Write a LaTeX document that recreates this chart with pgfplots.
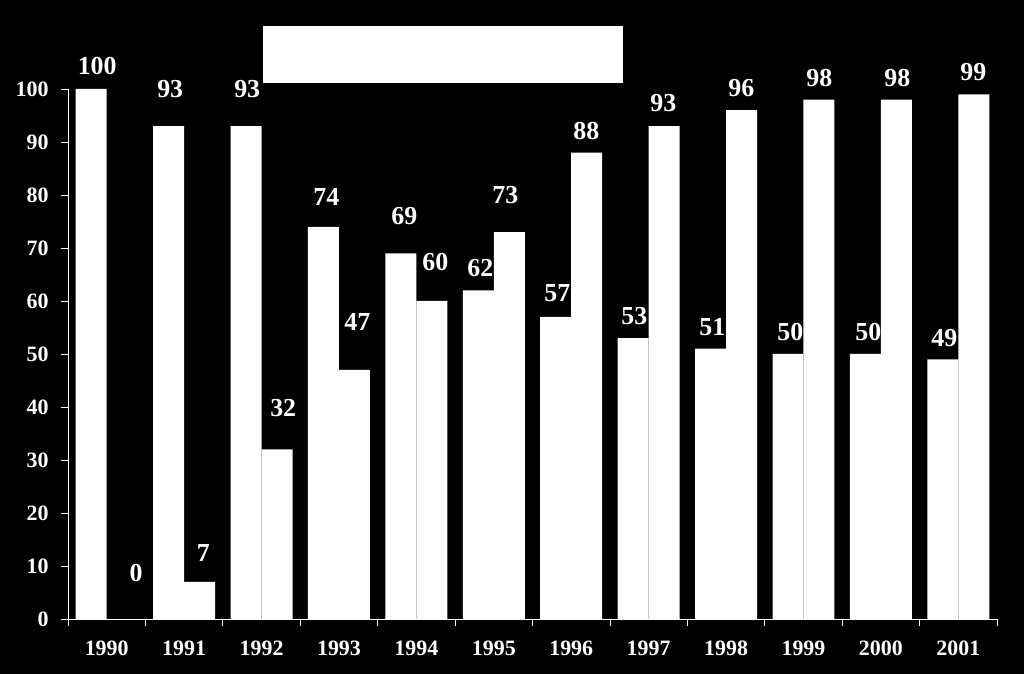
\documentclass[border=0pt]{standalone}
\usepackage{fontspec}
\setmainfont{Liberation Serif}
\usepackage{pgfplots}
\usepackage{pgfplotstable}
\pgfplotsset{compat=1.18}

\pgfplotstableread{
x v xo yo
0 100 -9.5 23
1 93 -13.9 37
2 93 -14.3 37
3 74 -12.7 30
4 69 -12.1 37
5 62 -13.5 22
6 57 -13.9 24
7 53 -14.3 22
8 51 -13.7 22
9 50 -13.1 22
10 50 -12.5 22
11 49 -13.9 21
}\seriesA

\pgfplotstableread{
x v xo yo
0 0 29.5 46
1 7 19.1 29
2 32 21.7 41
3 47 18.3 48
4 60 18.9 39
5 73 11.5 37
6 88 15.1 22
7 93 14.7 23
8 96 15.3 22
9 98 15.9 22
10 98 16.5 22
11 99 15.1 22
}\seriesB

\begin{document}
\begin{tikzpicture}
\fill[black] (0,0) rectangle (1024bp,674bp);
\useasboundingbox (0,0) rectangle (1024bp,674bp);
\begin{axis}[
  at={(68bp,55bp)}, anchor=south west,
  scale only axis, width=929bp, height=530bp,
  xmin=-0.5, xmax=11.5, ymin=0, ymax=100,
  axis x line*=bottom, axis y line*=left,
  axis line style={white, line width=0.8pt},
  tick style={white, line width=0.8pt},
  tick align=outside, major tick length=7bp,
  xtick={-0.5,0.5,...,11.5},
  x tick label as interval,
  xticklabels={1990,1991,1992,1993,1994,1995,1996,1997,1998,1999,2000,2001},
  ytick={0,10,...,100},
  /pgf/number format/assume math mode=true,
  ticklabel style={text=white, font=\fontsize{22}{26}\selectfont\bfseries},
  xticklabel style={yshift=-11bp},
  yticklabel style={xshift=-9bp},
]
\addplot[ybar, bar width=0.4, bar shift=-0.2, fill=white, draw=none,
  visualization depends on={\thisrow{xo}\as\xo},
  visualization depends on={\thisrow{yo}\as\yo},
  nodes near coords,
  every node near coord/.append style={anchor=center, xshift=\xo bp, yshift=\yo bp, text=white, font=\fontsize{26}{30}\selectfont\bfseries},
] table[x=x, y=v] {\seriesA};
\addplot[ybar, bar width=0.4, bar shift=0.2, fill=white, draw=none,
  visualization depends on={\thisrow{xo}\as\xo},
  visualization depends on={\thisrow{yo}\as\yo},
  nodes near coords,
  every node near coord/.append style={anchor=center, xshift=\xo bp, yshift=\yo bp, text=white, font=\fontsize{26}{30}\selectfont\bfseries},
] table[x=x, y=v] {\seriesB};
\end{axis}
\fill[white] (263bp,591bp) rectangle (623bp,648bp);
\end{tikzpicture}
\end{document}
